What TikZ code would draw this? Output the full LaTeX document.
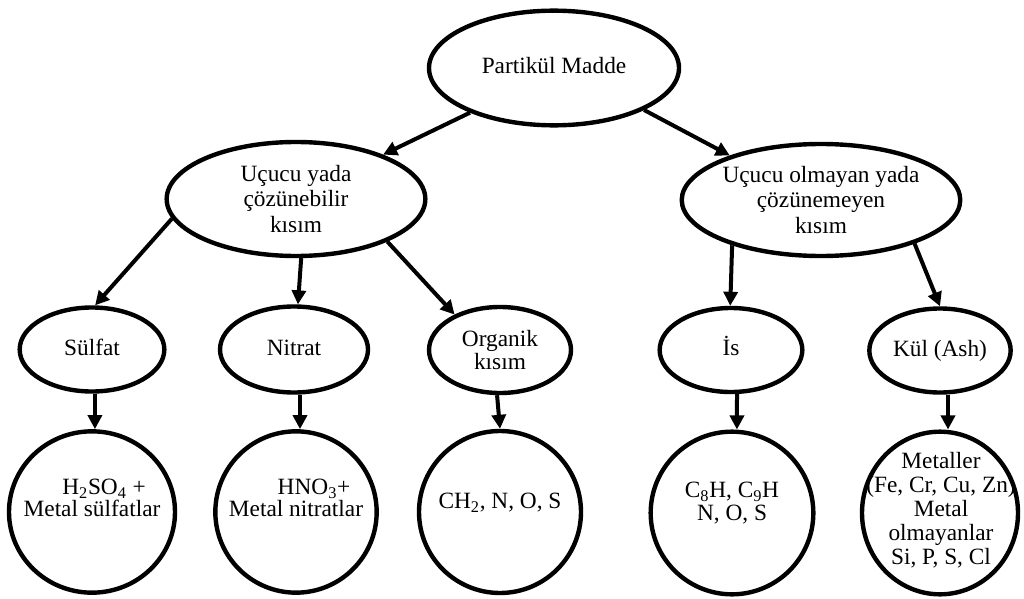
\documentclass[tikz,border=0pt]{standalone}
\usepackage{fontspec}
\setmainfont{Liberation Serif}
\usetikzlibrary{shapes.geometric,arrows.meta}
\begin{document}
\begin{tikzpicture}[x=0.75pt,y=-0.75pt,
  ell/.style={draw,ellipse,line width=3.3pt,inner sep=0pt,align=center,
    font=\fontsize{17.5}{19}\selectfont},
  one/.style={text height=12pt,text depth=3.5pt},
  txt/.style={inner sep=0pt,align=center,font=\fontsize{17.5}{18}\selectfont},
  arr/.style={line width=3pt,-{Triangle[length=10.5pt,width=10.5pt]}}]
\useasboundingbox[fill=white] (0,0) rectangle (1024,599);
% level 1
\node[ell,one,minimum width=187.5pt,minimum height=86pt] (top) at (554,68) {Partikül Madde};
% level 2
\node[ell,minimum width=194pt,minimum height=85.5pt] (lm) at (296,199) {Uçucu yada\\çözünebilir\\kısım};
\node[ell,minimum width=197pt,minimum height=84pt] (rm) at (821,200) {Uçucu olmayan yada\\çözünemeyen\\kısım};
% level 3
\node[ell,one,minimum width=108.5pt,minimum height=63pt] (s) at (92,349.5) {Sülfat};
\node[ell,one,minimum width=111pt,minimum height=64.5pt] (n) at (294,349.5) {Nitrat};
\node[ell,minimum width=106.5pt,minimum height=64.5pt,font=\fontsize{17.5}{17}\selectfont] (o) at (500,350) {Organik\\kısım};
\node[ell,one,minimum width=107pt,minimum height=63pt] (i) at (731,350) {İs};
\node[ell,one,minimum width=106pt,minimum height=63pt] (k) at (940,350.5) {Kül (Ash)};
% level 4
\node[ell,minimum width=124.5pt,minimum height=121pt] (c1) at (92,512) {};
\node[ell,minimum width=121pt,minimum height=121pt] (c2) at (296,512) {};
\node[ell,minimum width=121.5pt,minimum height=121.5pt] (c3) at (500,512) {};
\node[ell,minimum width=122pt,minimum height=122pt] (c4) at (732,513) {};
\node[ell,minimum width=117pt,minimum height=122pt] (c5) at (940,513) {};
\node[txt,font=\fontsize{17.5}{16.5}\selectfont] (c1t) at (92,498) {\hspace*{18pt}H\textsubscript{2}SO\textsubscript{4} +\\Metal sülfatlar};
\node[txt,font=\fontsize{17.5}{16.5}\selectfont] (c2t) at (296,498) {\hspace*{27pt}HNO\textsubscript{3}+\\Metal nitratlar};
\node[txt] (c3t) at (500,503) {CH\textsubscript{2}, N, O, S};
\node[txt,font=\fontsize{17.5}{17}\selectfont] (c4t) at (732,503) {C\textsubscript{8}H, C\textsubscript{9}H\\N, O, S};
\node[txt,font=\fontsize{17.5}{18}\selectfont] (c5t) at (941,510) {Metaller\\(Fe, Cr, Cu, Zn)\\Metal\\olmayanlar\\Si, P, S, Cl};
% connectors
\draw[arr] (top.208) -- (lm.27);
\draw[arr] (top.335.6) -- (rm.154.7);
\draw[arr] (lm.189.3) -- (s.86);
\draw[arr] (lm.275.8) -- (n.85);
\draw[arr] (lm.335.7) -- (o.142.4);
\draw[arr] (rm.207.1) -- (i.91);
\draw[arr] (rm.335) -- (k.90);
\draw[arr] ([xshift=2.2pt]s.south) -- ([xshift=2.2pt]c1.north);
\draw[arr] ([xshift=4.5pt]n.south) -- ([xshift=3pt]c2.north);
\draw[arr] ([xshift=-2.2pt]o.south) -- (c3.north);
\draw[arr] ([xshift=4.5pt]i.south) -- ([xshift=3.7pt]c4.north);
\draw[arr] ([xshift=6pt]k.south) -- ([xshift=6pt]c5.north);
\end{tikzpicture}
\end{document}
